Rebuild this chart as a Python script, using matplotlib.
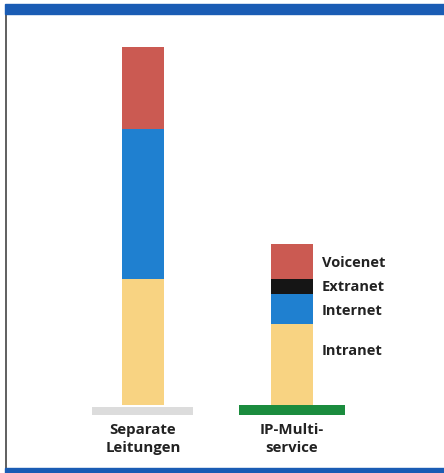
import matplotlib.pyplot as plt
from matplotlib.patches import Rectangle

# stacked values (arbitrary units)
categories = ["Separate\nLeitungen", "IP-Multi-\nservice"]
segments = ["Intranet", "Internet", "Extranet", "Voicenet"]
intranet = [126, 81]
internet = [150, 30]
extranet = [0, 15]
voicenet = [82, 35]

colors = {
    "Intranet": "#f8d382",
    "Internet": "#1f80d0",
    "Extranet": "#151515",
    "Voicenet": "#cb5a52",
}

W, H = 444, 473
fig = plt.figure(figsize=(W / 100, H / 100), dpi=100)
fig.patch.set_facecolor("white")

ax = fig.add_axes([0, 0, 1, 1])
ax.set_xlim(-143 / 149, (W - 143) / 149)
ax.set_ylim(-(H - 405), 405)
ax.axis("off")

x = [0, 1]
bottom = [0, 0]
for name, vals in zip(segments, [intranet, internet, extranet, voicenet]):
    ax.bar(x, vals, width=42 / 149, bottom=bottom, color=colors[name],
           linewidth=0, zorder=2)
    bottom = [b + v for b, v in zip(bottom, vals)]

# base plates under the bars
ax.bar([-0.003], [8], width=101 / 149, bottom=-10, color="#dcdcdc", linewidth=0)
ax.bar([1.0], [10], width=106 / 149, bottom=-10, color="#1b8c3e", linewidth=0)

# segment labels beside the right bar
label_y = {"Voicenet": 142, "Extranet": 118, "Internet": 94, "Intranet": 54}
for name, yy in label_y.items():
    ax.text(1.2, yy, name, fontsize=10.5, fontweight="bold", color="#222222",
            family="Open Sans", va="center", ha="left")

for xi, cat in zip(x, categories):
    ax.text(xi, -18, cat, fontsize=10.8, fontweight="bold", color="#222222",
            family="Open Sans", va="top", ha="center", linespacing=1.35)

# frame: blue band on top and bottom, thin grey line on the left
fig.patches.append(Rectangle((5 / W, 1 - 14 / H), 1, 10 / H, transform=fig.transFigure,
                             color="#1a5cb4", zorder=5))
fig.patches.append(Rectangle((5 / W, 0), 1, 5 / H, transform=fig.transFigure,
                             color="#1a5cb4", zorder=5))
fig.lines.append(plt.Line2D([6 / W, 6 / W], [5 / H, 1 - 14 / H], transform=fig.transFigure,
                            color="#444444", linewidth=1.2))

fig.savefig("out.png", dpi=100)
